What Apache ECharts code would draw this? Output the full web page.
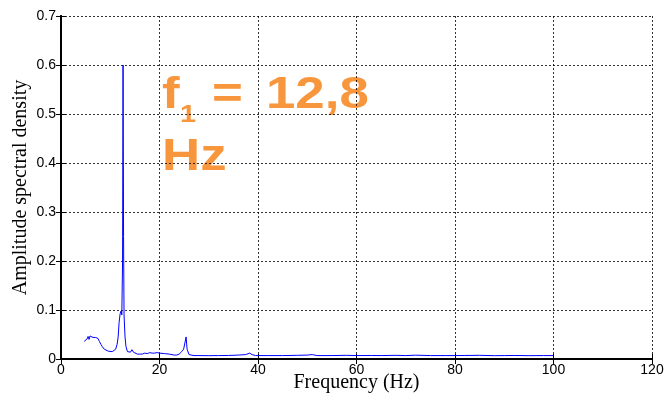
<!DOCTYPE html>
<html>
<head>
<meta charset="utf-8">
<script src="https://cdn.jsdelivr.net/npm/echarts@6/dist/echarts.min.js"></script>
<style>html,body{margin:0;padding:0;background:#fff;}#c{width:665px;height:396px;}</style>
</head>
<body>
<div id="c"></div>
<script>
var freq = [4.7,5.0,5.3,5.5,5.7,5.9,6.1,6.3,6.5,6.8,7.0,7.2,7.5,7.8,8.1,8.4,8.8,9.2,9.6,10.0,10.4,10.8,11.1,11.4,11.6,11.8,12.0,12.2,12.35,12.5,12.6,12.7,12.8,13.0,13.2,13.5,13.8,14.1,14.4,14.7,15.0,15.5,16.0,16.5,17.0,17.5,18.0,18.5,19.0,19.5,20.0,21.0,22.0,23.0,23.5,24.0,24.5,24.9,25.2,25.4,25.6,26.0,27.0,28.0,30.0,32.0,34.0,36.0,37.5,38.3,38.8,39.5,42.0,45.0,48.0,50.0,51.0,52.0,55.0,58.0,60.0,63.0,65.0,68.0,70.0,72.0,75.0,78.0,80.0,82.0,85.0,88.0,90.0,92.0,95.0,98.0,100.0];
var amplitude = [0.036,0.040,0.041,0.046,0.040,0.047,0.043,0.049,0.044,0.048,0.044,0.046,0.042,0.036,0.030,0.025,0.020,0.017,0.016,0.015,0.015,0.016,0.020,0.030,0.045,0.075,0.092,0.098,0.090,0.200,0.600,0.250,0.090,0.045,0.025,0.015,0.013,0.014,0.019,0.014,0.012,0.010,0.010,0.010,0.012,0.011,0.013,0.012,0.012,0.013,0.012,0.011,0.010,0.008,0.008,0.010,0.015,0.020,0.022,0.045,0.020,0.009,0.007,0.007,0.0068,0.007,0.0072,0.008,0.009,0.012,0.009,0.007,0.007,0.007,0.0075,0.008,0.009,0.007,0.007,0.0075,0.007,0.0072,0.007,0.0075,0.007,0.0078,0.007,0.007,0.007,0.0072,0.0075,0.0068,0.007,0.0072,0.0068,0.007,0.007];
var xTicks = [0,20,40,60,80,100,120];
var yTicks = [0,0.1,0.2,0.3,0.4,0.5,0.6,0.7];

var chart = echarts.init(document.getElementById('c'));
var pts = freq.map(function(f,i){return [f, amplitude[i]];});
var orange = '#f7963c';
var lbl = function(v){ return v===0 ? '0' : String(v); };
var gridDash = {show:true, lineStyle:{color:'#000', width:1, type:[2,2], opacity:0.8}};
chart.setOption({
  backgroundColor:'#fff',
  animation:false,
  grid:{left:61, right:13, top:16, bottom:37, containLabel:false, outerBoundsMode:'none'},
  xAxis:[{
    type:'value', min:0, max:120, interval:20, position:'bottom',
    name:'Frequency (Hz)', nameLocation:'middle', nameGap:14, nameMoveOverlap:false,
    nameTextStyle:{fontFamily:'Liberation Serif', fontSize:20, color:'#000'},
    axisLine:{show:true, onZero:false, lineStyle:{color:'#000', width:2}},
    axisTick:{show:true, inside:true, length:5, lineStyle:{color:'#000'}},
    axisLabel:{fontFamily:'Liberation Sans', fontSize:14, color:'#000', margin:4, formatter:lbl},
    splitLine:gridDash
  },{
    type:'value', min:0, max:120, interval:20, position:'top',
    axisLine:{show:true, lineStyle:{color:'#000', width:2}},
    axisTick:{show:true, inside:true, length:5, lineStyle:{color:'#000'}},
    axisLabel:{show:false}, splitLine:{show:false}
  }],
  yAxis:[{
    type:'value', min:0, max:0.7, interval:0.1, position:'left',
    name:'Amplitude spectral density', nameLocation:'middle', nameGap:30, nameMoveOverlap:false,
    nameTextStyle:{fontFamily:'Liberation Serif', fontSize:20, color:'#000'},
    axisLine:{show:true, onZero:false, lineStyle:{color:'#000', width:2}},
    axisTick:{show:true, inside:true, length:5, lineStyle:{color:'#000'}},
    axisLabel:{fontFamily:'Liberation Sans', fontSize:14, color:'#000', margin:5,
      formatter:function(v){ return v===0 ? '0' : v.toFixed(1); }},
    splitLine:gridDash
  },{
    type:'value', min:0, max:0.7, interval:0.1, position:'right',
    axisLine:{show:true, lineStyle:{color:'#000', width:2}},
    axisTick:{show:true, inside:true, length:5, lineStyle:{color:'#000'}},
    axisLabel:{show:false}, splitLine:{show:false}
  }],
  series:[{
    type:'line', data:pts, showSymbol:false, symbol:'none',
    lineStyle:{color:'#0000ff', width:1}, xAxisIndex:0, yAxisIndex:0, z:3
  }],
  graphic:[
    {type:'text', x:162, y:96, scaleX:1.2, style:{text:'f', fontFamily:'Liberation Sans', fontWeight:'bold', fontSize:44, fill:orange, verticalAlign:'middle'}},
    {type:'text', x:180, y:115, scaleX:1.2, style:{text:'1', fontFamily:'Liberation Sans', fontWeight:'bold', fontSize:24, fill:orange, verticalAlign:'middle'}},
    {type:'text', x:212, y:96, scaleX:1.2, style:{text:'=', fontFamily:'Liberation Sans', fontWeight:'bold', fontSize:44, fill:orange, verticalAlign:'middle'}},
    {type:'text', x:266, y:96, scaleX:1.2, style:{text:'12,8', fontFamily:'Liberation Sans', fontWeight:'bold', fontSize:44, fill:orange, verticalAlign:'middle'}},
    {type:'text', x:162, y:158, scaleX:1.2, style:{text:'Hz', fontFamily:'Liberation Sans', fontWeight:'bold', fontSize:44, fill:orange, verticalAlign:'middle'}}
  ]
});
</script>
</body>
</html>
